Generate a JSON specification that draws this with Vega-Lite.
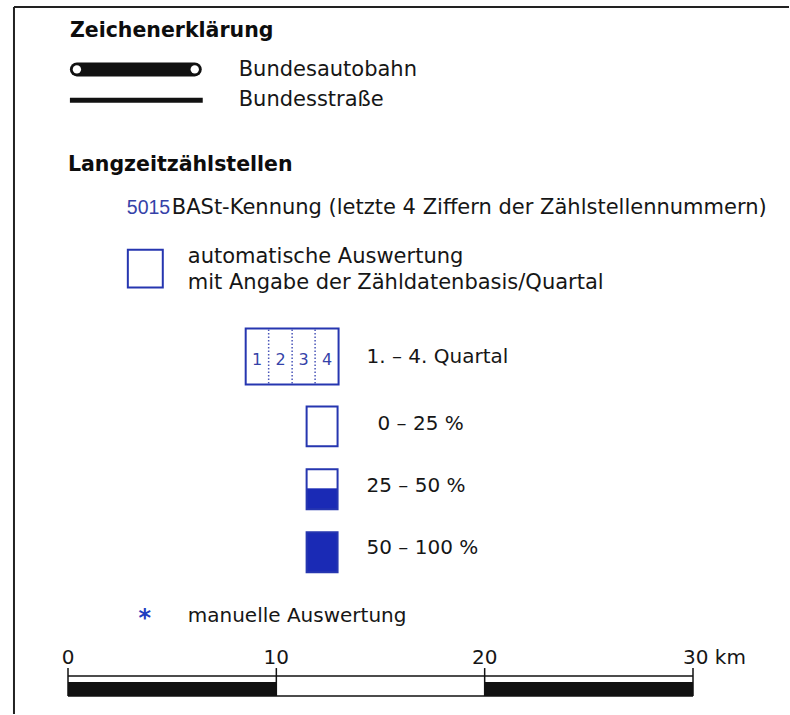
{
"$schema": "https://vega.github.io/schema/vega-lite/v6.json",
"width": 790, "height": 715, "padding": 0,
"autosize": {"type": "fit", "contains": "padding"},
"background": "white",
"config": {"view": {"stroke": null}, "text": {"font": "DejaVu Sans"}},
"datasets": {
 "frame": [{"x": 14, "y": 7, "x2": 790, "y2": 7}, {"x": 14, "y": 7, "x2": 14, "y2": 715}],
 "autobahn": [{"x": 77, "x2": 195, "y": 69.5}],
 "autobahnEnds": [{"x": 77, "y": 69.5}, {"x": 195, "y": 69.5}],
 "bstr": [{"x": 70, "x2": 203, "y": 100.5}],
 "headings": [{"label": "Zeichenerklärung", "x": 70, "y": 31}, {"label": "Langzeitzählstellen", "x": 68, "y": 165}],
 "textsLarge": [
  {"label": "Bundesautobahn", "x": 239, "y": 70},
  {"label": "Bundesstraße", "x": 239, "y": 100},
  {"label": "BASt-Kennung (letzte 4 Ziffern der Zählstellennummern)", "x": 172, "y": 208},
  {"label": "automatische Auswertung", "x": 188, "y": 257},
  {"label": "mit Angabe der Zähldatenbasis/Quartal", "x": 188, "y": 283}
 ],
 "texts": [
  {"label": "1. – 4. Quartal", "x": 367, "y": 357},
  {"label": "0 – 25 %", "x": 378, "y": 425},
  {"label": "25 – 50 %", "x": 367, "y": 487},
  {"label": "50 – 100 %", "x": 367, "y": 549},
  {"label": "manuelle Auswertung", "x": 188, "y": 617}
 ],
 "blueText": [{"label": "5015", "x": 127, "y": 208}],
 "fills": [{"x": 307, "x2": 338, "y": 489, "y2": 510}, {"x": 307, "x2": 338, "y": 533, "y2": 573}],
 "boxes": [
  {"x": 128, "x2": 163, "y": 250, "y2": 288},
  {"x": 246, "x2": 339, "y": 329, "y2": 385},
  {"x": 307, "x2": 338, "y": 407, "y2": 447},
  {"x": 307, "x2": 338, "y": 470, "y2": 510},
  {"x": 307, "x2": 338, "y": 533, "y2": 573}
 ],
 "dividers": [{"x": 269, "y": 330, "y2": 384}, {"x": 292.5, "y": 330, "y2": 384}, {"x": 315.5, "y": 330, "y2": 384}],
 "quarters": [{"label": "1", "x": 257.5, "y": 361}, {"label": "2", "x": 281, "y": 361}, {"label": "3", "x": 304, "y": 361}, {"label": "4", "x": 327.5, "y": 361}],
 "star": [{"label": "*", "x": 145, "y": 620}],
 "scaleBlack": [{"km": 0, "km2": 10, "y": 683, "y2": 697}, {"km": 20, "km2": 30, "y": 683, "y2": 697}],
 "scaleLines": [{"km": 0, "km2": 30, "y": 677}, {"km": 0, "km2": 30, "y": 697}],
 "scaleTicks": [{"km": 0, "y": 669, "y2": 697}, {"km": 10, "y": 669, "y2": 697}, {"km": 20, "y": 669, "y2": 697}, {"km": 30, "y": 669, "y2": 697}],
 "scaleLabels": [{"km": 0, "label": "0", "y": 659}, {"km": 10, "label": "10", "y": 659}, {"km": 20, "label": "20", "y": 659}],
 "scaleUnit": [{"km": 30, "label": "30 km", "y": 659}]
},
"resolve": {"scale": {"x": "independent"}},
"layer": [
 {"layer": [
  {"data": {"name": "frame"}, "mark": {"type": "rule", "strokeWidth": 2, "color": "#222"},
   "encoding": {"x": {"field": "x", "type": "quantitative", "scale": {"domain": [0, 790], "nice": false, "zero": false}, "axis": null},
    "x2": {"field": "x2"},
    "y": {"field": "y", "type": "quantitative", "scale": {"domain": [0, 715], "nice": false, "zero": false, "reverse": true}, "axis": null},
    "y2": {"field": "y2"}}},
  {"data": {"name": "autobahn"}, "mark": {"type": "rule", "strokeWidth": 14, "strokeCap": "round", "color": "#111"},
   "encoding": {"x": {"field": "x", "type": "quantitative"}, "x2": {"field": "x2"}, "y": {"field": "y", "type": "quantitative"}}},
  {"data": {"name": "autobahnEnds"}, "mark": {"type": "point", "shape": "circle", "filled": true, "color": "white", "opacity": 1, "size": 70},
   "encoding": {"x": {"field": "x", "type": "quantitative"}, "y": {"field": "y", "type": "quantitative"}}},
  {"data": {"name": "bstr"}, "mark": {"type": "rule", "strokeWidth": 5, "color": "#111"},
   "encoding": {"x": {"field": "x", "type": "quantitative"}, "x2": {"field": "x2"}, "y": {"field": "y", "type": "quantitative"}}},
  {"data": {"name": "headings"}, "mark": {"type": "text", "fontSize": 20.5, "fontWeight": "bold", "align": "left", "baseline": "middle", "color": "#0d0d0d"},
   "encoding": {"x": {"field": "x", "type": "quantitative"}, "y": {"field": "y", "type": "quantitative"}, "text": {"field": "label"}}},
  {"data": {"name": "textsLarge"}, "mark": {"type": "text", "fontSize": 21, "align": "left", "baseline": "middle", "color": "#161616"},
   "encoding": {"x": {"field": "x", "type": "quantitative"}, "y": {"field": "y", "type": "quantitative"}, "text": {"field": "label"}}},
  {"data": {"name": "texts"}, "mark": {"type": "text", "fontSize": 20, "align": "left", "baseline": "middle", "color": "#161616"},
   "encoding": {"x": {"field": "x", "type": "quantitative"}, "y": {"field": "y", "type": "quantitative"}, "text": {"field": "label"}}},
  {"data": {"name": "blueText"}, "mark": {"type": "text", "font": "Liberation Sans", "fontSize": 19.5, "align": "left", "baseline": "middle", "color": "#3542a8"},
   "encoding": {"x": {"field": "x", "type": "quantitative"}, "y": {"field": "y", "type": "quantitative"}, "text": {"field": "label"}}},
  {"data": {"name": "fills"}, "mark": {"type": "rect", "color": "#1a2ab5"},
   "encoding": {"x": {"field": "x", "type": "quantitative"}, "x2": {"field": "x2"}, "y": {"field": "y", "type": "quantitative"}, "y2": {"field": "y2"}}},
  {"data": {"name": "boxes"}, "mark": {"type": "rect", "filled": false, "color": "#2636b0", "strokeWidth": 2},
   "encoding": {"x": {"field": "x", "type": "quantitative"}, "x2": {"field": "x2"}, "y": {"field": "y", "type": "quantitative"}, "y2": {"field": "y2"}}},
  {"data": {"name": "dividers"}, "mark": {"type": "rule", "strokeWidth": 1.5, "strokeDash": [1.5, 2], "color": "#4a56b8"},
   "encoding": {"x": {"field": "x", "type": "quantitative"}, "y": {"field": "y", "type": "quantitative"}, "y2": {"field": "y2"}}},
  {"data": {"name": "quarters"}, "mark": {"type": "text", "fontSize": 16, "align": "center", "baseline": "middle", "color": "#3542a8"},
   "encoding": {"x": {"field": "x", "type": "quantitative"}, "y": {"field": "y", "type": "quantitative"}, "text": {"field": "label"}}},
  {"data": {"name": "star"}, "mark": {"type": "text", "fontSize": 24, "fontWeight": "bold", "align": "center", "baseline": "middle", "color": "#1f3ec0"},
   "encoding": {"x": {"field": "x", "type": "quantitative"}, "y": {"field": "y", "type": "quantitative"}, "text": {"field": "label"}}}
 ]},
 {"layer": [
  {"data": {"name": "scaleBlack"}, "mark": {"type": "rect", "color": "#111"},
   "encoding": {"x": {"field": "km", "type": "quantitative", "scale": {"domain": [0, 30], "range": [68, 693], "nice": false, "zero": false}, "axis": null},
    "x2": {"field": "km2"},
    "y": {"field": "y", "type": "quantitative", "scale": {"domain": [0, 715], "nice": false, "zero": false, "reverse": true}, "axis": null},
    "y2": {"field": "y2"}}},
  {"data": {"name": "scaleLines"}, "mark": {"type": "rule", "strokeWidth": 1.5, "color": "#111"},
   "encoding": {"x": {"field": "km", "type": "quantitative"}, "x2": {"field": "km2"}, "y": {"field": "y", "type": "quantitative"}}},
  {"data": {"name": "scaleTicks"}, "mark": {"type": "rule", "strokeWidth": 1.5, "color": "#111"},
   "encoding": {"x": {"field": "km", "type": "quantitative"}, "y": {"field": "y", "type": "quantitative"}, "y2": {"field": "y2"}}},
  {"data": {"name": "scaleLabels"}, "mark": {"type": "text", "fontSize": 20, "align": "center", "baseline": "middle", "color": "#161616"},
   "encoding": {"x": {"field": "km", "type": "quantitative"}, "y": {"field": "y", "type": "quantitative"}, "text": {"field": "label"}}},
  {"data": {"name": "scaleUnit"}, "mark": {"type": "text", "fontSize": 20, "align": "left", "dx": -10, "baseline": "middle", "color": "#161616"},
   "encoding": {"x": {"field": "km", "type": "quantitative"}, "y": {"field": "y", "type": "quantitative"}, "text": {"field": "label"}}}
 ]}
]
}
